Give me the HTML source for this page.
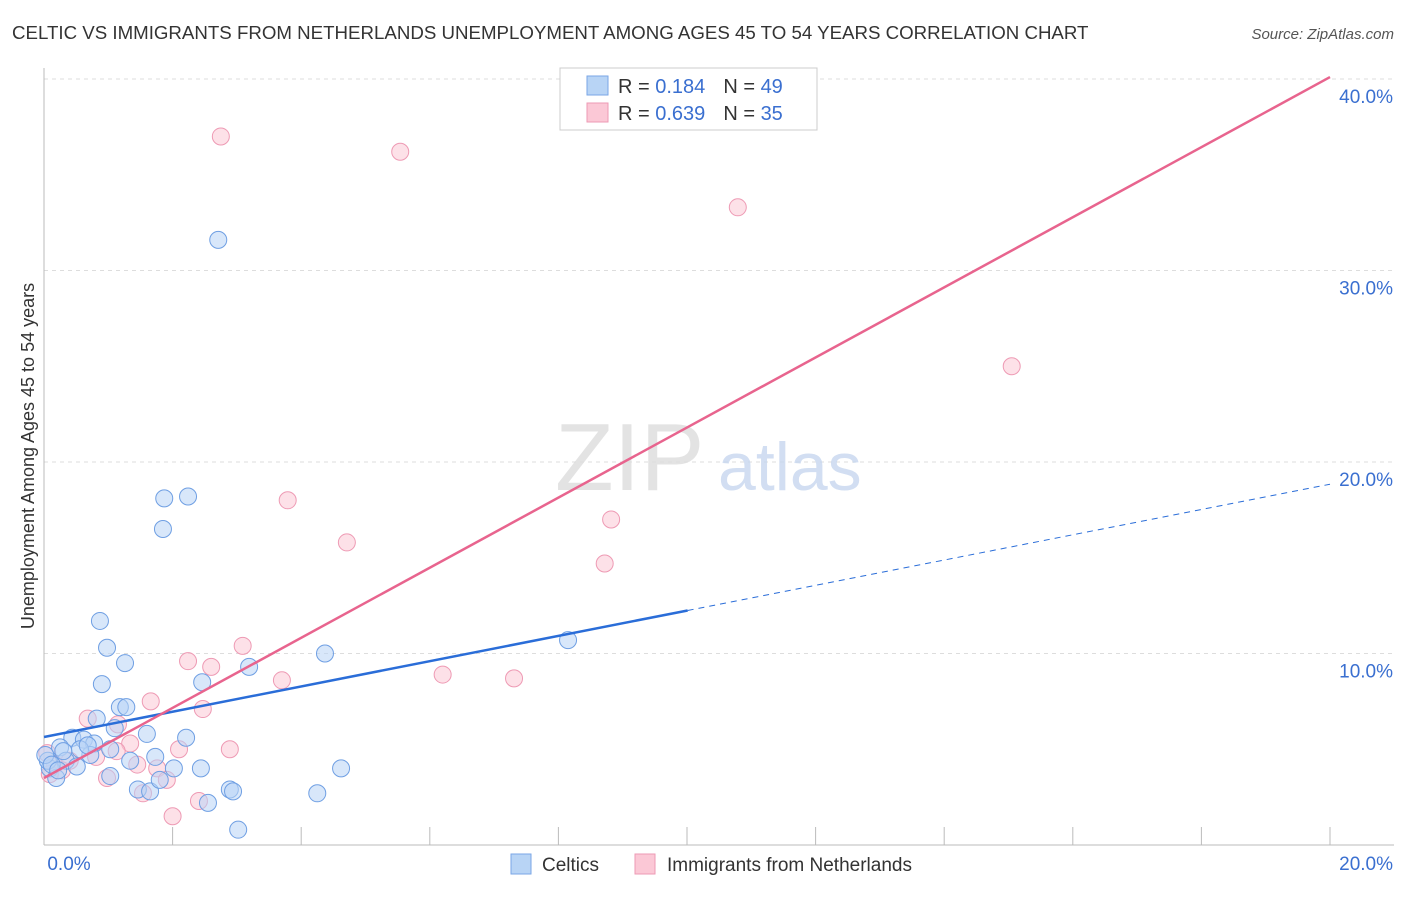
<!DOCTYPE html>
<html><head><meta charset="utf-8"><style>
body{margin:0;background:#fff;font-family:"Liberation Sans",sans-serif;}
svg text{font-family:"Liberation Sans",sans-serif;}
</style></head><body>
<svg id="chart" width="1406" height="892" xmlns="http://www.w3.org/2000/svg">
<text x="12" y="39" font-size="18.7" fill="#333">CELTIC VS IMMIGRANTS FROM NETHERLANDS UNEMPLOYMENT AMONG AGES 45 TO 54 YEARS CORRELATION CHART</text>
<text x="1394" y="39" font-size="15" fill="#555" font-style="italic" text-anchor="end">Source: ZipAtlas.com</text>
<text transform="translate(34,456) rotate(-90)" font-size="18" fill="#333" text-anchor="middle">Unemployment Among Ages 45 to 54 years</text>
<g id="grid"></g>
<text x="555" y="490" font-size="96" fill="#ddd" font-family="Liberation Serif" opacity="0.8">ZIP</text>
<text x="718" y="490" font-size="68" fill="#c7d7ef" opacity="0.8">atlas</text>
<g id="marks"></g>
<g>
<rect x="560" y="68" width="257" height="62" fill="#fff" stroke="#ccc"/>
<rect x="587" y="76" width="21" height="19" fill="#b8d4f5" stroke="#7aa6e6"/>
<rect x="587" y="103" width="21" height="19" fill="#fbc8d6" stroke="#ee9ab4"/>
<text x="618" y="93" font-size="20" fill="#333">R = <tspan fill="#3a6fd0">0.184</tspan><tspan dx="18">N = </tspan><tspan fill="#3a6fd0">49</tspan></text>
<text x="618" y="120" font-size="20" fill="#333">R = <tspan fill="#3a6fd0">0.639</tspan><tspan dx="18">N = </tspan><tspan fill="#3a6fd0">35</tspan></text>
</g>
<g>
<rect x="511" y="854" width="20" height="20" fill="#b8d4f5" stroke="#7aa6e6"/>
<text x="542" y="871" font-size="19" fill="#333">Celtics</text>
<rect x="635" y="854" width="20" height="20" fill="#fbc8d6" stroke="#ee9ab4"/>
<text x="667" y="871" font-size="19" fill="#333">Immigrants from Netherlands</text>
</g>
</svg>
<script>
const xTicks=[0,2,4,6,8,10,12,14,16,18,20];
const yTicks=[10,20,30,40];
const celticsXv=[2.71,1.87,2.24,1.85,0.87,0.98,1.26,0.90,2.46,3.19,4.37,8.15,1.18,1.28,0.82,1.60,2.21,1.10,0.44,0.62,0.78,0.72,0.25,0.34,1.34,1.73,2.02,2.44,4.62,0.51,0.09,0.19,1.03,1.46,1.65,2.89,2.94,2.55,4.25,3.02,1.80,0.06,0.56,1.03,0.30,0.02,0.12,0.68,0.22];
const celticsYv=[31.6,18.1,18.2,16.5,11.7,10.3,9.5,8.4,8.5,9.3,10.0,10.7,7.2,7.2,6.6,5.8,5.6,6.1,5.6,5.5,5.3,4.7,5.1,4.4,4.4,4.6,4.0,4.0,4.0,4.1,4.0,3.5,3.6,2.9,2.8,2.9,2.8,2.2,2.7,0.8,3.4,4.4,5.0,5.0,4.9,4.7,4.2,5.2,3.9];
const nethXv=[2.75,5.54,10.79,15.05,3.79,4.71,8.82,8.72,3.09,2.24,2.60,3.70,6.20,7.31,2.47,1.66,0.68,1.15,1.34,1.13,2.89,2.10,0.81,0.98,1.45,1.76,1.91,2.41,2.00,1.54,0.05,0.17,0.40,0.28,0.09];
const nethYv=[37.0,36.2,33.3,25.0,18.0,15.8,17.0,14.7,10.4,9.6,9.3,8.6,8.9,8.7,7.1,7.5,6.6,6.3,5.3,4.9,5.0,5.0,4.6,3.5,4.2,4.0,3.4,2.3,1.5,2.7,4.8,4.2,4.4,3.9,3.7];
const trendIntercept=[5.64,3.5];
const trendSlope=[0.66,1.83];
const solidEnd=[10.01,20];
const NS='http://www.w3.org/2000/svg';
const sx=v=>44+v/20*1286;
const sy=v=>845-v/10*191.5;
const gridG=document.getElementById('grid');const marksG=document.getElementById('marks');
function mk(tag,attrs,parent){const e=document.createElementNS(NS,tag);for(const k in attrs)e.setAttribute(k,attrs[k]);parent.appendChild(e);return e;}
yTicks.forEach(t=>{
 const l=mk('line',{x1:44,x2:1394,y1:sy(t),y2:sy(t),stroke:'#ddd','stroke-dasharray':'4,4'},gridG);
 
 
 const tx=mk('text',{x:1393,y:sy(t)+24,'font-size':19,fill:'#3a6fd0','text-anchor':'end'},gridG);tx.textContent=t.toFixed(1)+'%';
 
 
});
const ax=mk('line',{x1:44,x2:1394,y1:845,y2:845,stroke:'#bbb'},gridG);


const ay=mk('line',{x1:44,x2:44,y1:68,y2:845,stroke:'#bbb'},gridG);


xTicks.forEach(t=>{if(t===0)return;const l=mk('line',{x1:sx(t),x2:sx(t),y1:827,y2:845,stroke:'#bbb'},gridG);
 
 });
[[0,'0.0%',69,'middle'],[20,'20.0%',1393,'end']].forEach(a=>{const tx=mk('text',{x:a[2],y:870,'font-size':19,fill:'#3a6fd0','text-anchor':a[3]},gridG);tx.textContent=a[1];
 
 });
function pts(xs,ys,fill,stroke,name){xs.forEach((x,i)=>{const c=mk('circle',{cx:sx(x),cy:sy(ys[i]),r:8.5,fill:fill,'fill-opacity':0.55,stroke:stroke,'stroke-width':1},marksG);
 
 });}
pts(nethXv,nethYv,'#fbc8d6','#ee9ab4','netherlands-point');
pts(celticsXv,celticsYv,'#b8d4f5','#6f9fe3','celtics-point');
const colors=['#2a6dd8','#e8648e'];
[0,1].forEach(k=>{
 const f=x=>trendIntercept[k]+trendSlope[k]*x;
 const l=mk('line',{x1:sx(0),y1:sy(f(0)),x2:sx(solidEnd[k]),y2:sy(f(solidEnd[k])),stroke:colors[k],'stroke-width':2.5},marksG);
 
 
 if(solidEnd[k]<20){const d=mk('line',{x1:sx(solidEnd[k]),y1:sy(f(solidEnd[k])),x2:sx(20),y2:sy(f(20)),stroke:colors[k],'stroke-width':1,'stroke-dasharray':'6,5'},marksG);
 
 }
});
</script>
</body></html>
